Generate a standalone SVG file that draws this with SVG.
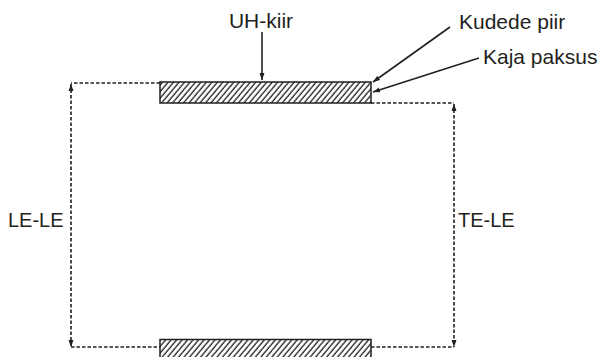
<svg xmlns="http://www.w3.org/2000/svg" width="600" height="357" viewBox="0 0 600 357">
<style>
.lbl{font-family:"Liberation Sans",Arial,sans-serif;fill:#231f20}
.dash{fill:none;stroke:#231f20;stroke-width:1.6;stroke-dasharray:3.5,2}
.solid{fill:none;stroke:#231f20;stroke-width:1.6}
.slab{fill:url(#hatch);stroke:#231f20;stroke-width:1.5}
</style>
<defs>
<pattern id="hatch" patternUnits="userSpaceOnUse" width="4.2" height="4" patternTransform="rotate(40)">
<rect width="4.2" height="4" fill="#fff"/>
<line x1="1" y1="0" x2="1" y2="4" stroke="#231f20" stroke-width="1.3"/>
</pattern>
<marker id="ah" markerUnits="userSpaceOnUse" markerWidth="8" markerHeight="6" refX="7" refY="3" orient="auto-start-reverse">
<path d="M0,0.5 L7,3 L0,5.5 z" fill="#231f20"/>
</marker>
</defs>
<g id="slab-top"><rect class="slab" x="160" y="82" width="211" height="21"/></g>
<g id="slab-bottom"><rect class="slab" x="160" y="339.5" width="211" height="22"/></g>
<g id="connectors">
<line class="dash" x1="160" y1="83" x2="71" y2="83"/>
<line class="dash" x1="71" y1="84" x2="71" y2="347" marker-start="url(#ah)" marker-end="url(#ah)"/>
<line class="dash" x1="71" y1="347" x2="160" y2="347"/>
<line class="dash" x1="371" y1="103" x2="454" y2="103"/>
<line class="dash" x1="454" y1="104" x2="454" y2="347" marker-start="url(#ah)" marker-end="url(#ah)"/>
<line class="dash" x1="371" y1="347" x2="454" y2="347"/>
<line class="solid" x1="262" y1="32" x2="262" y2="80" marker-end="url(#ah)"/>
<line class="solid" x1="450" y1="27" x2="373" y2="82" marker-end="url(#ah)"/>
<line class="solid" x1="479" y1="58" x2="373" y2="92" marker-end="url(#ah)"/>
</g>
<g id="label-uh"><text class="lbl" x="261" y="28" font-size="21" text-anchor="middle">UH-kiir</text></g>
<g id="label-kudede"><text class="lbl" x="459" y="29" font-size="21">Kudede piir</text></g>
<g id="label-kaja"><text class="lbl" x="483" y="64" font-size="21">Kaja paksus</text></g>
<g id="label-lele"><text class="lbl" x="8" y="227" font-size="20">LE-LE</text></g>
<g id="label-tele"><text class="lbl" x="458" y="227" font-size="20">TE-LE</text></g>
</svg>
